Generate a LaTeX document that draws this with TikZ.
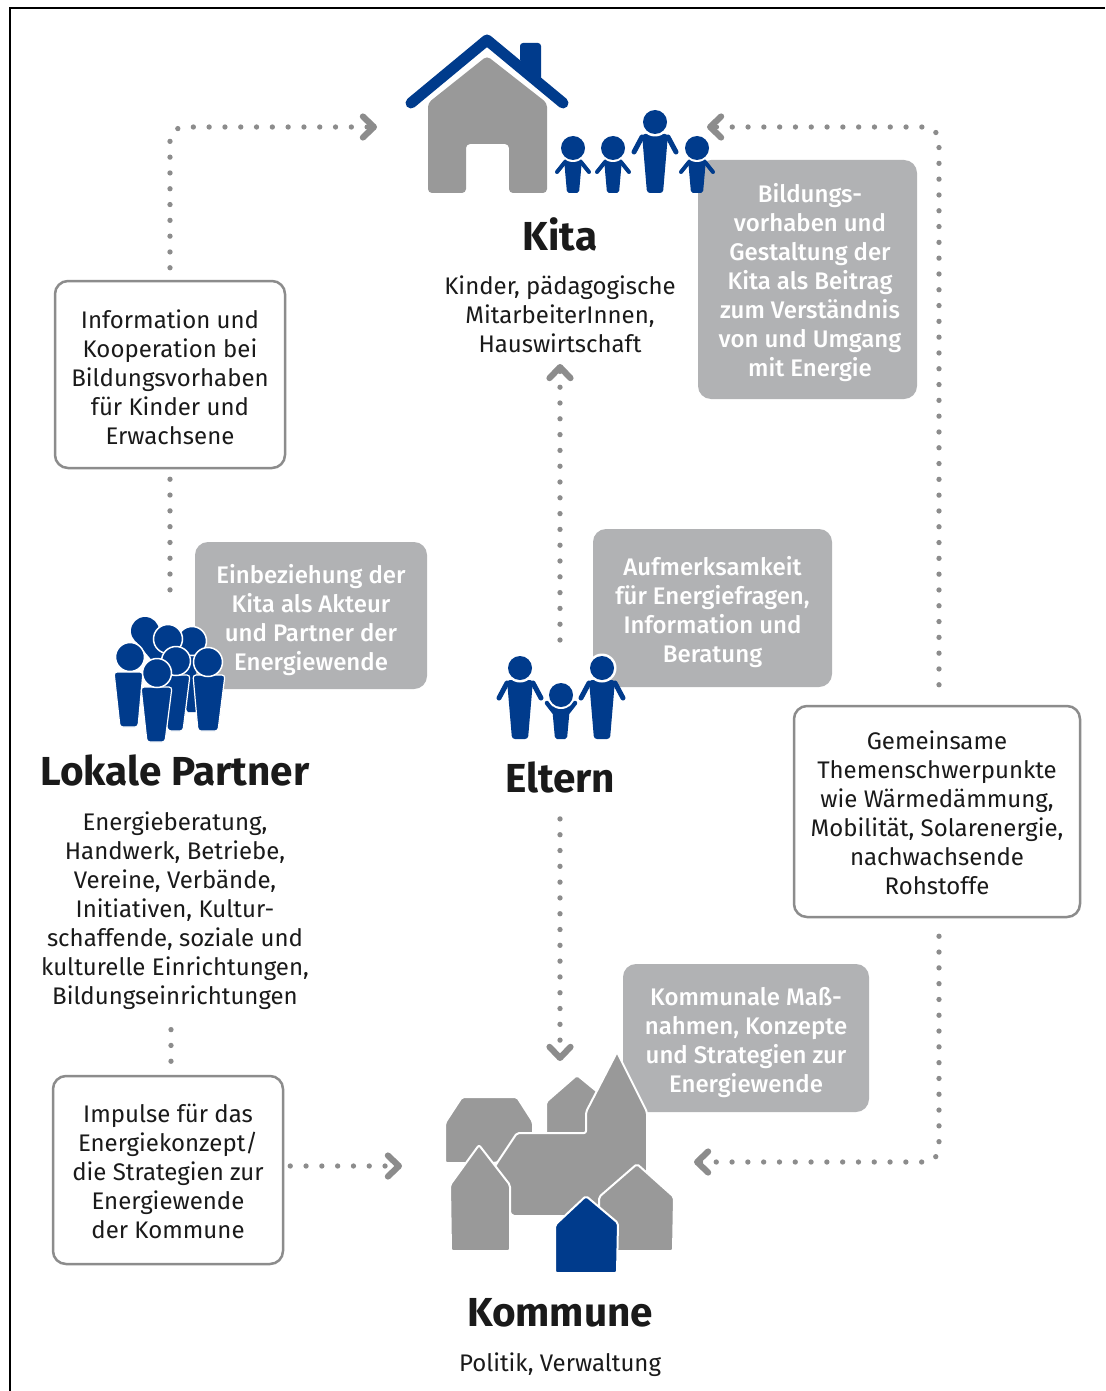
\documentclass[tikz,border=0pt]{standalone}
\usepackage{fontspec}
\setmainfont{Fira Sans}
\newfontfamily\medfont{Fira Sans Medium}
\usetikzlibrary{arrows.meta}
\definecolor{iconblue}{HTML}{003B8C}
\definecolor{housegrey}{HTML}{999999}
\definecolor{boxgrey}{HTML}{B1B2B4}
\definecolor{linegrey}{HTML}{8C8C8C}
\definecolor{ink}{HTML}{1A1A1A}
\newcommand{\adultfig}[2]{%
  \begin{scope}[shift={(#1,#2)}]
    \draw[iconblue,line width=5pt,line cap=round] (-13,15) -- (-21,30) (13,15) -- (21,30);
    \fill[iconblue,rounded corners=3pt] (-13,12) -- (13,12) -- (8,71) -- (-8,71) -- cycle;
    \fill[white] (0,0) circle[radius=14.5pt];
    \fill[iconblue] (0,0) circle[radius=12pt];
  \end{scope}}
\newcommand{\kidfig}[2]{%
  \begin{scope}[shift={(#1,#2)}]
    \draw[iconblue,line width=4pt,line cap=round] (-8,14) -- (-16,24) (8,14) -- (16,24);
    \fill[iconblue,rounded corners=2pt] (-9,11) -- (9,11) -- (6,45) -- (-6,45) -- cycle;
    \fill[white] (0,0) circle[radius=14pt];
    \fill[iconblue] (0,0) circle[radius=12pt];
  \end{scope}}
\newcommand{\kidupfig}[2]{%
  \begin{scope}[shift={(#1,#2)}]
    \draw[iconblue,line width=4.5pt,line cap=round] (-7,17) -- (-14,8) (7,17) -- (14,8);
    \fill[iconblue,rounded corners=2pt] (-9,11) -- (9,11) -- (6,44) -- (-6,44) -- cycle;
    \fill[white] (0,0) circle[radius=14pt];
    \fill[iconblue] (0,0) circle[radius=12pt];
  \end{scope}}
\newcommand{\crowdfig}[7]{%
  \fill[iconblue,rounded corners=3pt,draw=white,line width=1.2pt]
    (#1,#2) -- (#3,#2) -- (#5,#4) -- (#6,#4) -- cycle;
  \fill[iconblue,draw=white,line width=1.5pt] (#7) circle[radius=14.5pt];}
\newcommand{\dn}[1]{\rule{0pt}{\dimexpr 18pt+2\dimexpr #1\relax\relax}}
\newcommand{\sft}{\hspace*{5pt}}
\tikzset{
  x=1pt,y=-1pt,
  every node/.style={font=\fontsize{24}{29}\selectfont,text=ink,align=center,inner sep=0pt},
  heading/.style={font=\fontsize{40.5}{44}\bfseries\selectfont},
  greybox/.style={fill=boxgrey,rounded corners=13pt,text=white,font=\fontsize{24}{29}\medfont\selectfont},
  whitebox/.style={draw=linegrey,line width=2.5pt,fill=white,rounded corners=13pt},
  dots/.style={draw=linegrey,line width=5.3pt,line cap=round,dash pattern=on 0pt off 15.8pt},
  chevron/.style={-{Straight Barb[length=11pt,width=21pt,line width=6.2pt,round]}},
  roofline/.style={draw=iconblue,line width=11pt,line cap=round,line join=round},
  citygrey/.style={fill=housegrey,draw=white,line width=2pt,rounded corners=2pt,line join=round},
}
\begin{document}
\begin{tikzpicture}
\useasboundingbox (0,0) rectangle (1105,1391);
\fill[white] (0,0) rectangle (1105,1391);
\draw[black,line width=1.2pt] (1105,8) -- (10,8) -- (10,1391);

% grey boxes
\node[greybox,minimum width=219pt,minimum height=239pt] (bildung) at (807.5,279.5) {\dn{3.5pt}\sft Bildungs-\\\sft vorhaben und\\\sft Gestaltung der\\\sft Kita als Beitrag\\\sft zum Verständnis\\\sft von und Umgang\\\sft mit Energie};
\node[greybox,minimum width=232pt,minimum height=147pt] (einbez) at (311,615.5) {\dn{5pt}Einbeziehung der\\Kita als Akteur\\und Partner der\\Energiewende};
\node[greybox,minimum width=239pt,minimum height=158pt] (aufmerk) at (712.5,608) {\dn{5pt}Aufmerksamkeit\\für Energiefragen,\\Information und\\Beratung};
\node[greybox,minimum width=246pt,minimum height=148pt] (massn) at (746,1038) {\dn{4.5pt}Kommunale Maß-\\nahmen, Konzepte\\und Strategien zur\\Energiewende};

% white boxes
\node[whitebox,minimum width=230pt,minimum height=187pt] (info) at (170,374.5) {\dn{3pt}Information und\\Kooperation bei\\Bildungsvorhaben\\für Kinder und\\Erwachsene};
\node[whitebox,minimum width=286pt,minimum height=211pt] (gemein) at (937,811.5) {\dn{2pt}Gemeinsame\\Themenschwerpunkte\\wie Wärmedämmung,\\Mobilität, Solarenergie,\\nachwachsende\\Rohstoffe};
\node[whitebox,minimum width=230pt,minimum height=188pt] (impuls) at (168,1170) {\dn{2pt}Impulse für das\\Energiekonzept/\\die Strategien zur\\Energiewende\\der Kommune};

% texts
\node[heading] (kita) at (560,234) {Kita};
\node (kitatext) at (560,314) {Kinder, pädagogische\\MitarbeiterInnen,\\Hauswirtschaft};
\node[heading] (partner) at (175,770) {Lokale Partner};
\node (partnertext) at (175,910.5) {Energieberatung,\\Handwerk, Betriebe,\\Vereine, Verbände,\\Initiativen, Kultur-\\schaffende, soziale und\\kulturelle Einrichtungen,\\Bildungseinrichtungen};
\node[heading] (eltern) at (560,777) {Eltern};
\node[heading] (kommune) at (560,1313) {Kommune};
\node (kommunetext) at (560,1365) {Politik, Verwaltung};

% Kita icon
\fill[iconblue,rounded corners=3pt] (520,62) -- (520,43) -- (541,43) -- (541,82) -- cycle;
\draw[roofline] (411,103) -- (487,40) -- (563,103);
\fill[housegrey,rounded corners=4pt] (428,193) -- (428,103) -- (487,56) -- (547,103) -- (547,193) -- (509,193) -- (509,144) -- (466,144) -- (466,193) -- cycle;
\kidfig{573}{148}
\kidfig{613}{148}
\adultfig{655}{122}
\kidfig{697}{148}

% Eltern icon
\adultfig{520}{668}
\adultfig{602}{668}
\kidupfig{561}{695}

% Partner icon
\fill[iconblue] (135,640) -- (196,640) -- (196,712) -- (188,712) -- (160,670) -- cycle;
\fill[iconblue] (145,631) circle[radius=14pt];
\fill[iconblue,draw=white,line width=1.5pt] (192,641) circle[radius=14.5pt];
\fill[iconblue,draw=white,line width=1.5pt] (168,639) circle[radius=14.5pt];
\crowdfig{153}{675}{190}{731}{183}{168}{176,661}
\crowdfig{114}{672}{143}{727}{138}{120}{130,657}
\crowdfig{193}{675}{225}{731}{218}{198}{208,662}
\crowdfig{141}{687}{172}{742}{165}{147}{157,673}

% Kommune icon
\path[citygrey] (445,1163) -- (445,1123) -- (462,1097) -- (517,1097) -- (533,1122) -- (533,1150) -- (495,1163) -- cycle;
\path[citygrey] (546,1135) -- (546,1102) -- (577,1075) -- (605,1098) -- (605,1135) -- cycle;
\path[citygrey] (497,1163) -- (517,1133) -- (586,1133) -- (586,1112) -- (617,1052) -- (647,1112) -- (647,1216) -- (512,1216) -- (490,1175) -- cycle;
\path[citygrey] (451,1251) -- (450,1185) -- (479,1145) -- (510,1185) -- (510,1251) -- cycle;
\path[citygrey] (600,1251) -- (599,1197) -- (637,1164) -- (674,1197) -- (673,1251) -- cycle;
\path[fill=iconblue,draw=white,line width=2pt,rounded corners=2pt] (555,1273) -- (555,1225) -- (586,1196) -- (618,1223) -- (617,1273) -- cycle;

% connectors
\coordinate (kitaleft) at (377,127);
\coordinate (kitaright) at (707,127);
\coordinate (kitabelow) at (560,364);
\coordinate (partnericon) at (170,596);
\coordinate (elterntop) at (560,640);
\coordinate (kommunetop) at (560,1061);
\coordinate (kommuneleft) at (402,1166);
\coordinate (kommuneright) at (694,1162);
\draw[dots,chevron,rounded corners=14pt] ([yshift=12pt]info.north) |- (kitaleft);
\draw[dots] ([yshift=-10pt]info.south) -- (partnericon);
\draw[dots] ([xshift=-4pt,yshift=-20pt]partnertext.south) -- ([yshift=12pt,xshift=3pt]impuls.north);
\draw[dots,chevron] ([xshift=6pt,yshift=4pt]impuls.east) -- (kommuneleft);
\draw[dots,chevron] (elterntop) -- (kitabelow);
\draw[dots,chevron] ([yshift=-26pt]eltern.south) -- (kommunetop);
\draw[dots,chevron,rounded corners=14pt] ([xshift=2pt,yshift=20pt]gemein.north) |- (kitaright);
\draw[dots,chevron,rounded corners=14pt] ([xshift=2pt,yshift=-18pt]gemein.south) |- (kommuneright);
\end{tikzpicture}
\end{document}
